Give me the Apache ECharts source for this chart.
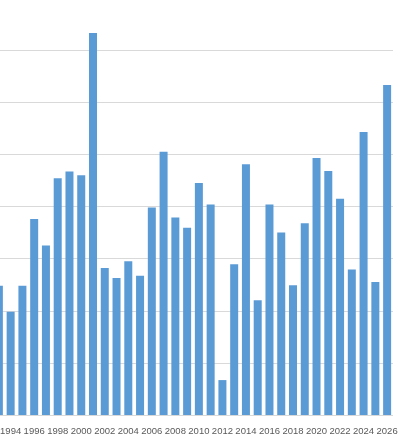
<!DOCTYPE html>
<html>
<head>
<meta charset="utf-8">
<script src="https://cdn.jsdelivr.net/npm/echarts@6/dist/echarts.min.js"></script>
<style>
  html, body { margin: 0; padding: 0; background: #fff; overflow: hidden; }
  body { width: 400px; height: 439px; position: relative; }
  /* chart is a crop of a wider one: shift it so the first bar is cut off */
  #chart { position: absolute; left: -7px; top: -4px; width: 414px; height: 443px; }
</style>
</head>
<body>
<div id="chart"></div>
<script>
// years shown along the bottom (first one is cut off at the left edge)
const years = [];
for (let y = 1993; y <= 2026; y++) years.push(String(y));

// bar heights, in gridline units
const values = [
  2.48, 1.98, 2.48, 3.76, 3.25, 4.54, 4.67, 4.60, 7.33, 2.82,
  2.63, 2.95, 2.67, 3.98, 5.05, 3.79, 3.59, 4.45, 4.04, 0.67,
  2.89, 4.81, 2.20, 4.04, 3.50, 2.49, 3.68, 4.93, 4.68, 4.15,
  2.79, 5.43, 2.55, 6.33
];

const myChart = echarts.init(document.getElementById('chart'));

const option = {
  animation: false,
  color: ['#5B9BD5'],
  grid: {
    left: 0,
    right: 14,
    top: 2,
    bottom: 24,
    containLabel: false
  },
  xAxis: {
    type: 'category',
    data: years,
    axisLine: { show: false },
    axisTick: { show: false },
    axisLabel: {
      interval: function (index) { return index % 2 === 1; },
      color: '#595959',
      fontSize: 9.5,
      fontFamily: 'Liberation Sans',
      margin: 11
    }
  },
  yAxis: {
    type: 'value',
    min: 0,
    max: 8,
    interval: 1,
    axisLine: { show: false },
    axisTick: { show: false },
    axisLabel: { show: false },
    splitLine: { lineStyle: { color: '#D9D9D9', width: 1 } }
  },
  series: [
    {
      type: 'bar',
      data: values,
      barWidth: 8,
      itemStyle: { color: '#5B9BD5' }
    }
  ]
};

myChart.setOption(option);
</script>
</body>
</html>
